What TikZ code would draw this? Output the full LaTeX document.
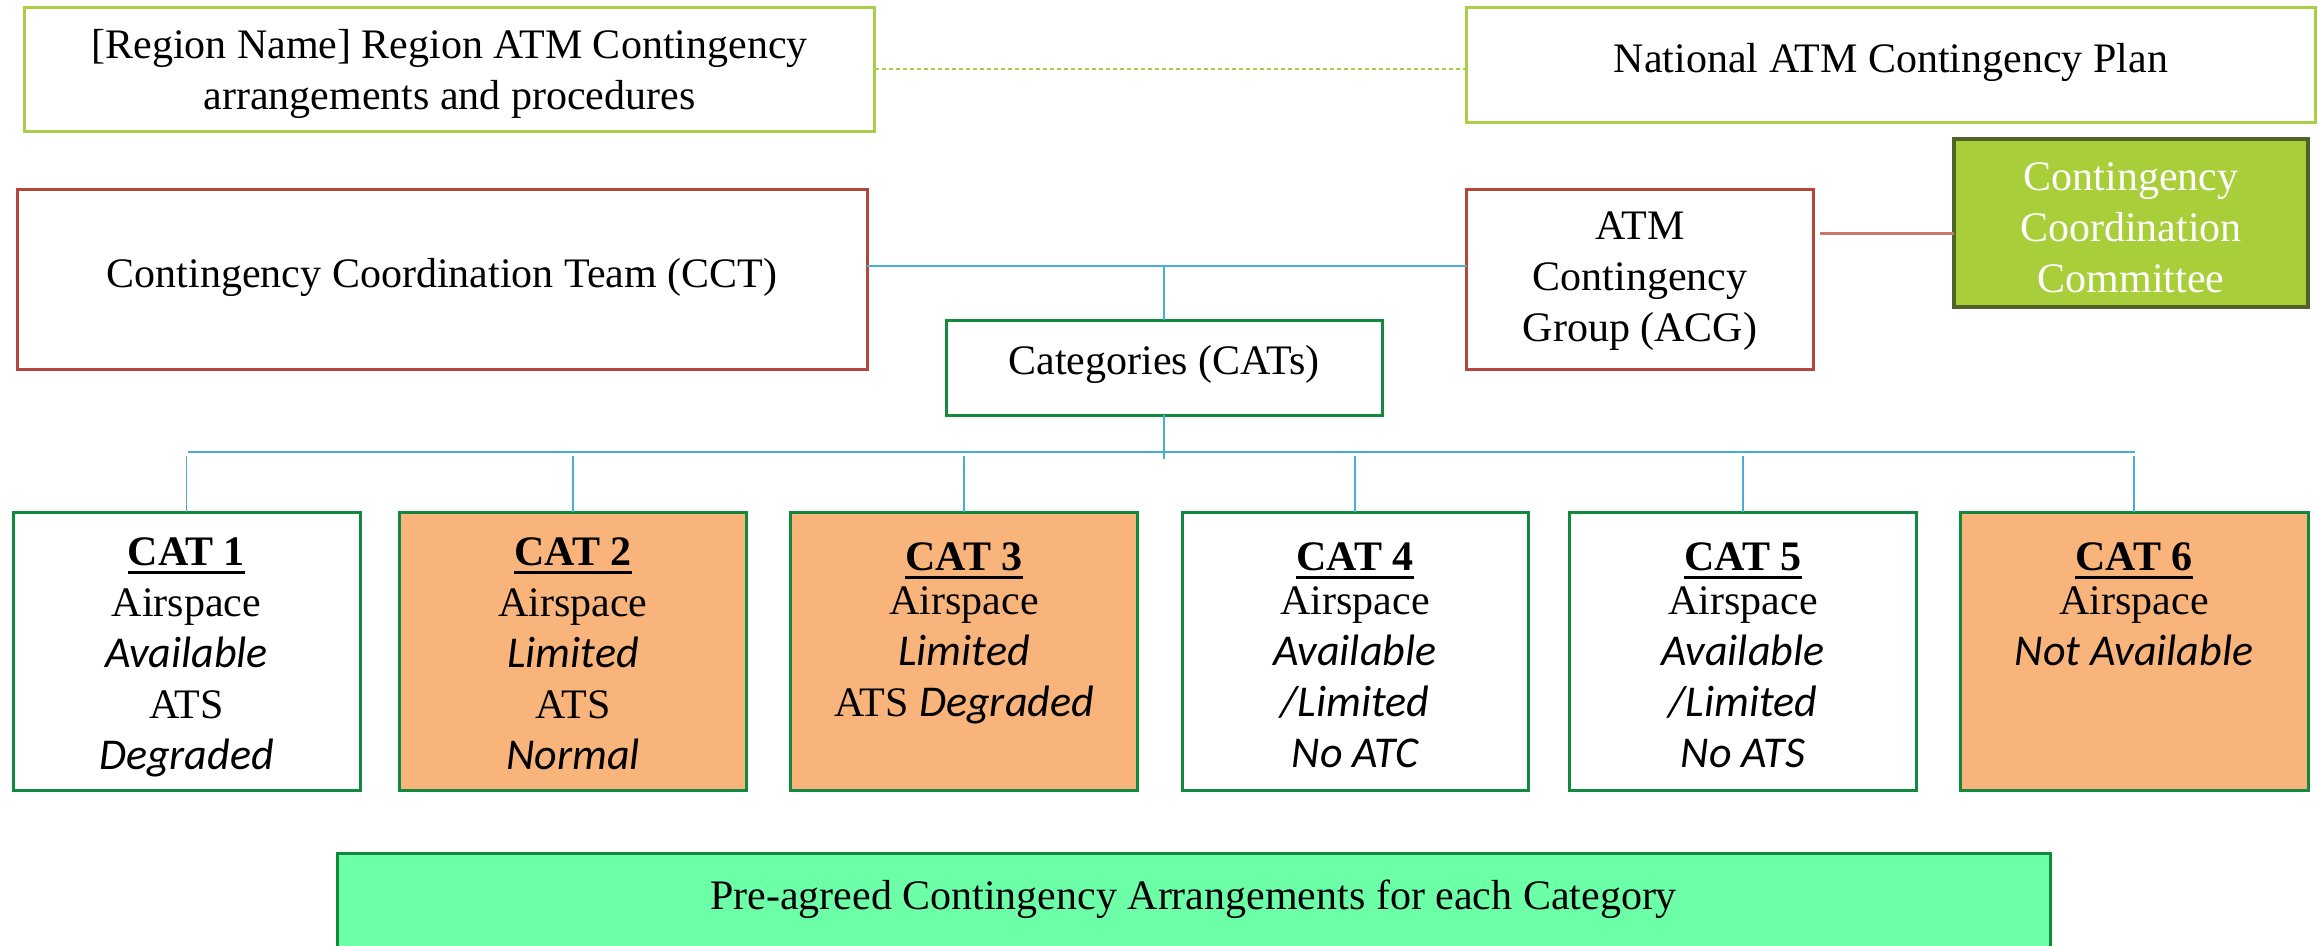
\documentclass[tikz,border=0pt]{standalone}
\usepackage{fontspec}
\setmainfont{Liberation Serif}
\newfontfamily\carl{Carlito}
\definecolor{lgreen}{HTML}{A8CF45}
\definecolor{brownred}{HTML}{B3473B}
\definecolor{redline}{HTML}{C8776B}
\definecolor{cccfill}{HTML}{A8CE3A}
\definecolor{cccdraw}{HTML}{4F6228}
\definecolor{blueline}{HTML}{4AADD8}
\definecolor{dgreen}{HTML}{128A3E}
\definecolor{orangefill}{HTML}{F8B47A}
\definecolor{mint}{HTML}{6CFFA8}
\newcommand\tb[4]{\parbox[c][#1pt][t]{#2pt}{\centering\rule{0pt}{#3pt}#4}}
\newcommand\itx[1]{{\carl\itshape\fontsize{44}{51}\selectfont #1}}
\newcommand\catt[1]{\sbox0{\bfseries #1}\rlap{\rule[-9pt]{\wd0}{3.5pt}}\usebox0}
\begin{document}
\begin{tikzpicture}[x=1pt,y=-1pt,
  base/.style={inner sep=0pt, outer sep=0pt, font=\fontsize{42}{51}\selectfont},
  planbox/.style={base, draw=lgreen, line width=3pt},
  teambox/.style={base, draw=brownred, line width=3pt},
  cccbox/.style={base, draw=cccdraw, fill=cccfill, line width=4pt, text=white},
  catbox/.style={base, draw=dgreen, line width=3pt},
  catorange/.style={catbox, fill=orangefill},
  arrbox/.style={base, draw=dgreen, fill=mint, line width=3pt},
  bline/.style={draw=blueline, line width=1.5pt},
  rline/.style={draw=redline, line width=3pt},
  dline/.style={draw=lgreen, line width=1.5pt, dash pattern=on 4pt off 3pt}]
\useasboundingbox (0,0) rectangle (2318,945);
\clip (0,0) rectangle (2318,945);

% top row
\node[planbox] (RG) at (449.5,69) {\tb{124}{850}{51}{[Region Name] Region ATM Contingency\\ arrangements and procedures}};
\node[planbox] (NAT) at (1891,64.5) {\tb{115}{849}{65}{National ATM Contingency Plan}};

% second row
\node[teambox] (CCT) at (442,279) {\tb{180}{850}{98}{Contingency Coordination Team (CCT)}};
\node[teambox] (ACG) at (1640,279) {\tb{180}{347}{50}{ATM\\ Contingency\\ Group (ACG)}};
\node[cccbox] (CCC) at (2131,223) {\tb{168}{354}{51}{Contingency\\ Coordination\\ Committee}};
\node[catbox] (CAT) at (1164,367.5) {\tb{95}{436}{54}{Categories (CATs)}};

% categories
\node[catbox] (C1) at (186.5,651) {\tb{278}{347}{53}{\catt{CAT 1}\\ Airspace\\ \itx{Available}\\ ATS\\ \itx{Degraded}}};
\node[catorange] (C2) at (573,651) {\tb{278}{347}{53}{\catt{CAT 2}\\ Airspace\\ \itx{Limited}\\ ATS\\ \itx{Normal}}};
\node[catorange] (C3) at (964,651) {\tb{278}{347}{58}{\catt{CAT 3}\\[-7pt] Airspace\\ \itx{Limited}\\ ATS \itx{Degraded}}};
\node[catbox] (C4) at (1355,651) {\tb{278}{346}{58}{\catt{CAT 4}\\[-7pt] Airspace\\ \itx{Available}\\ \itx{/Limited}\\ \itx{No ATC}}};
\node[catbox] (C5) at (1743,651) {\tb{278}{347}{58}{\catt{CAT 5}\\[-7pt] Airspace\\ \itx{Available}\\ \itx{/Limited}\\ \itx{No ATS}}};
\node[catorange] (C6) at (2134,651) {\tb{278}{348}{58}{\catt{CAT 6}\\[-7pt] Airspace\\ \itx{Not Available}}};

% bottom
\node[arrbox] (ARR) at (1193.5,901.5) {\tb{97}{1713}{56}{Pre-agreed Contingency Arrangements for each Category}};

% connectors
\draw[dline] (RG.east) -- (RG.east -| NAT.west);
\draw[bline] ([yshift=13pt]CCT.east) -- ([yshift=13pt]ACG.west);
\coordinate (TJ) at (1164,266);
\draw[bline] (TJ) -- (CAT.north);
\coordinate (r1) at (1820,233);
\draw[rline] (r1) -- (r1 -| CCC.west);
\coordinate (busL) at (188,452);
\coordinate (busR) at (2135,452);
\coordinate (busM) at (1164,459);
\draw[bline] (busL) -- (busR);
\draw[bline] (CAT.south) -- (busM);
\foreach \c in {C1,C2,C3,C4,C5,C6}{
  \draw[bline] (\c.north) -- ++(0,-56);
}
\end{tikzpicture}
\end{document}
